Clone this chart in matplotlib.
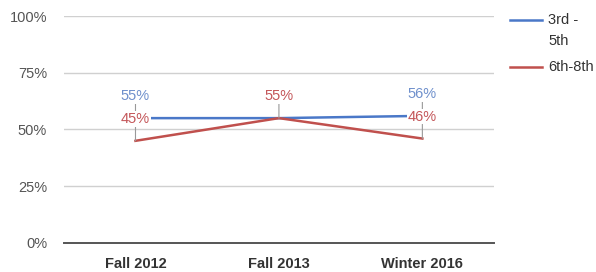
import matplotlib.pyplot as plt
from matplotlib.lines import Line2D
from matplotlib.ticker import FuncFormatter

plt.rcParams['font.family'] = ['Liberation Sans', 'DejaVu Sans']

categories = ["Fall 2012", "Fall 2013", "Winter 2016"]
grade_3_5 = [55, 55, 56]
grade_6_8 = [45, 55, 46]
series_names = ["3rd -\n5th", "6th-8th"]
# which point labels are drawn (hidden where they overlap)
show_3_5 = [True, False, True]
show_6_8 = [True, True, True]

blue = "#4a78c8"
red = "#c0504d"
blue_txt = "#6f90cc"
red_txt = "#c4575a"

fig = plt.figure(figsize=(5.96, 2.72), dpi=100)
ax = fig.add_axes([0.107, 0.107, 0.722, 0.834])

x = list(range(len(categories)))
ax.plot(x, grade_3_5, color=blue, lw=1.8, zorder=2)
ax.plot(x, grade_6_8, color=red, lw=1.8, zorder=2)

for vals, shows, col in [(grade_3_5, show_3_5, blue_txt), (grade_6_8, show_6_8, red_txt)]:
    for xi, v, s in zip(x, vals, shows):
        if not s:
            continue
        ax.annotate(f"{v}%", xy=(xi, v), xytext=(0, 22), textcoords="offset pixels",
                    ha="center", va="center", fontsize=10.5, color=col,
                    bbox=dict(boxstyle="square,pad=0.05", fc="white", ec="none"),
                    arrowprops=dict(arrowstyle="-", color="#999999", lw=0.8,
                                    shrinkA=0, shrinkB=0),
                    zorder=4)

ax.set_xlim(-0.5, 2.5)
ax.set_ylim(0, 100)
ax.set_yticks([0, 25, 50, 75, 100])
ax.yaxis.set_major_formatter(FuncFormatter(lambda v, p: f"{v:.0f}%"))
ax.set_xticks(x)
ax.set_xticklabels(categories)

ax.grid(axis="y", color="#d0d0d0", lw=1)
ax.set_axisbelow(True)
for side in ["top", "right", "left"]:
    ax.spines[side].set_visible(False)
ax.spines["bottom"].set_color("#555555")
ax.spines["bottom"].set_linewidth(1.4)
ax.tick_params(length=0, labelsize=10.5)
ax.tick_params(axis="x", pad=10, colors="#333333")
ax.tick_params(axis="y", pad=12, colors="#555555")
for lab in ax.get_xticklabels():
    lab.set_fontweight("bold")

# legend drawn by hand so the line sits beside the first text line
leg_y = [0.926, 0.754]
line_gap = 0.076
for col, name, ly in zip([blue, red], series_names, leg_y):
    fig.add_artist(Line2D([0.856, 0.909], [ly, ly], color=col, lw=1.8,
                          transform=fig.transFigure))
    for k, part in enumerate(name.split("\n")):
        fig.text(0.920, ly - k * line_gap, part, fontsize=10.5,
                 color="#333333", va="center")

fig.savefig("out.png", dpi=100)
